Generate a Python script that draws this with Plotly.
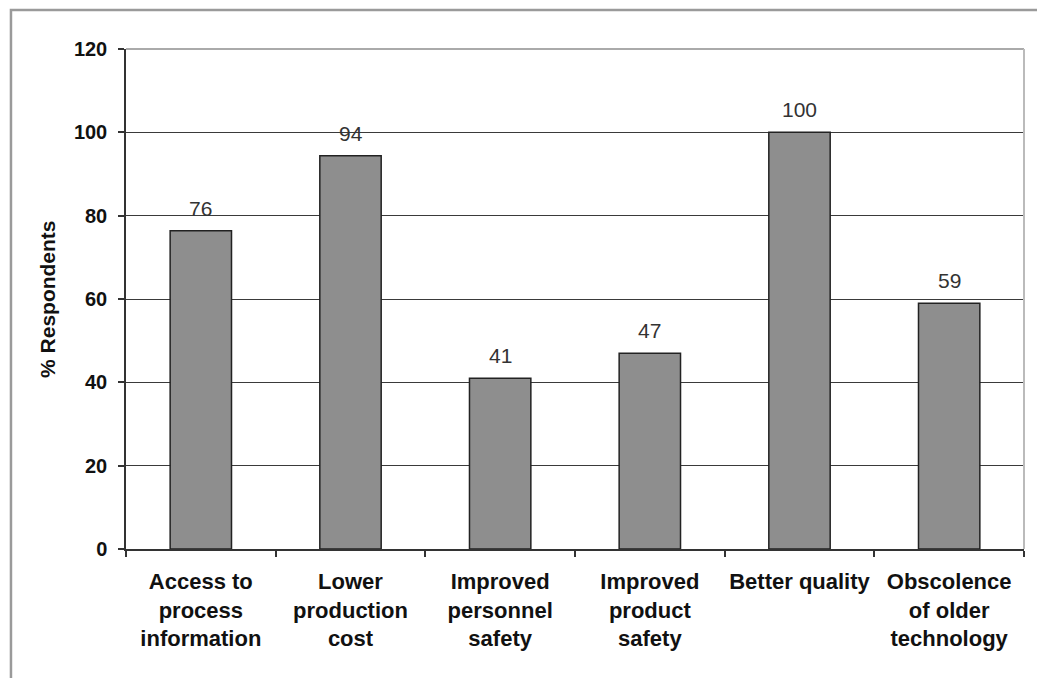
import plotly.graph_objects as go

categories = [
    "Access to<br>process<br>information",
    "Lower<br>production<br>cost",
    "Improved<br>personnel<br>safety",
    "Improved<br>product<br>safety",
    "Better quality",
    "Obscolence<br>of older<br>technology",
]
values = [76.4, 94.4, 41, 47, 100, 59]
labels = ["76", "94", "41", "47", "100", "59"]
y_ticks = [0, 20, 40, 60, 80, 100, 120]

FONT = "Liberation Sans, Arial, sans-serif"

fig = go.Figure()
fig.add_trace(go.Bar(
    x=categories, y=values,
    width=0.41,
    marker=dict(color="#8e8e8e", line=dict(color="#222222", width=1.5)),
    hoverinfo="skip",
))

for c, v, t in zip(categories, values, labels):
    fig.add_annotation(x=c, y=v, text=t, showarrow=False, yanchor="bottom",
                       yshift=9, font=dict(family=FONT, size=21, color="#333333"))

fig.add_annotation(xref="paper", yref="paper", x=-0.088, y=0.5, xanchor="center", yanchor="middle",
                   text="<b>% Respondents</b>", textangle=-90, showarrow=False,
                   font=dict(family=FONT, size=21, color="#111111"))

# plot area border top/right (lighter)
fig.add_shape(type="line", xref="paper", yref="paper", x0=0, x1=1, y0=1, y1=1,
              line=dict(color="#aaaaaa", width=2), layer="above")
fig.add_shape(type="line", xref="paper", yref="paper", x0=1, x1=1, y0=0, y1=1,
              line=dict(color="#bbbbbb", width=2), layer="above")
# outer frame
fig.add_shape(type="rect", xref="paper", yref="paper", x0=-0.1281, x1=1.05, y0=-0.4, y1=1.078,
              line=dict(color="#9a9a9a", width=2.5), layer="above")

fig.update_layout(
    width=1037, height=678,
    margin=dict(l=126, r=13, t=49, b=129, autoexpand=False),
    paper_bgcolor="white", plot_bgcolor="white",
    showlegend=False,
    xaxis=dict(
        showline=True, linecolor="#333333", linewidth=1.5,
        ticks="outside", tickson="boundaries", ticklen=6, tickcolor="#333333", tickwidth=1.5,
        tickfont=dict(family=FONT, size=22, color="#111111"),
        tickvals=categories, ticktext=["<b>" + c + "</b>" for c in categories],
        tickangle=0, automargin=False,
        showgrid=False, ticklabelstandoff=12,
    ),
    yaxis=dict(
        range=[0, 120], tickvals=y_ticks, ticktext=["<b>%d</b>" % v for v in y_ticks],
        showline=True, linecolor="#333333", linewidth=1.5,
        ticks="outside", ticklen=6, tickcolor="#333333", tickwidth=1.5,
        tickfont=dict(family=FONT, size=20, color="#111111"),
        automargin=False,
        showgrid=True, gridcolor="#3a3a3a", gridwidth=1.3,
        zeroline=False, ticklabelstandoff=7,
    ),
)

fig.write_html("out.html")
